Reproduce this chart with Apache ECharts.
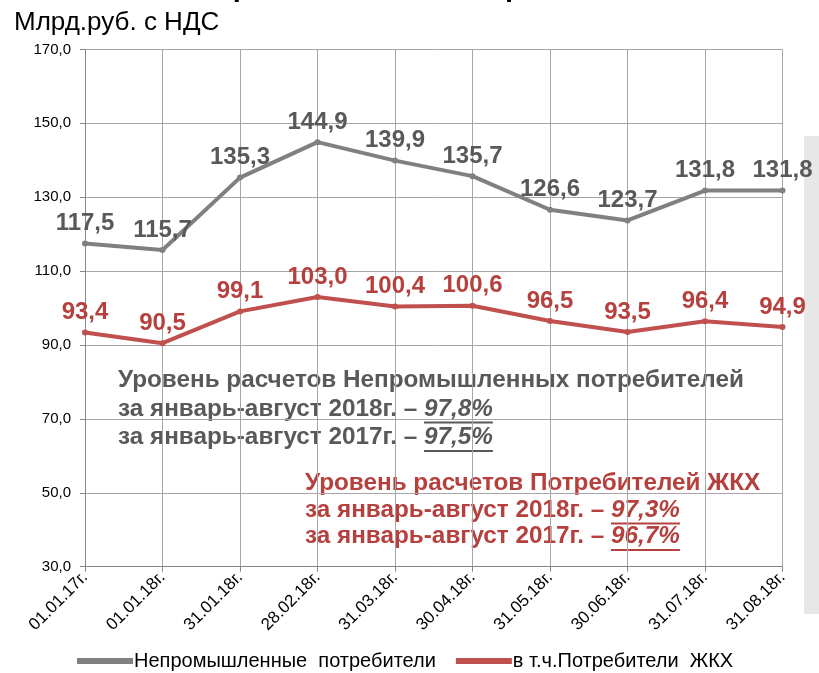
<!DOCTYPE html>
<html><head><meta charset="utf-8">
<script src="https://cdn.jsdelivr.net/npm/echarts@6/dist/echarts.min.js"></script>
<style>html,body{margin:0;padding:0;background:#fff}#c{width:819px;height:673px}</style>
</head><body><div id="c"></div>
<script>
const categories = ['01.01.17г.','01.01.18г.','31.01.18г.','28.02.18г.','31.03.18г.','30.04.18г.','31.05.18г.','30.06.18г.','31.07.18г.','31.08.18г.'];
const nonIndustrial = [117.5,115.7,135.3,144.9,139.9,135.7,126.6,123.7,131.8,131.8];
const housing = [93.4,90.5,99.1,103.0,100.4,100.6,96.5,93.5,96.4,94.9];
const seriesNames = ['Непромышленные  потребители','в т.ч.Потребители  ЖКХ'];
const yTicks = {min:30, max:170, interval:20};
const unitLabel = 'Млрд.руб. с НДС';
const topTitle = 'Непромышленные потребители';
const noteGray = ['Уровень расчетов Непромышленных потребителей', ['за январь-август 2018г. – ','97,8%'], ['за январь-август 2017г. – ','97,5%']];
const noteRed = ['Уровень расчетов Потребителей ЖКХ', ['за январь-август 2018г. – ','97,3%'], ['за январь-август 2017г. – ','96,7%']];

const FONT = 'Liberation Sans, Arial, sans-serif';
const fmt = v => v.toFixed(1).replace('.', ',');
const GRAY = '#808080', RED = '#c0504d', GRAYT = '#595959', REDT = '#b5403d';

const cv = document.createElement('canvas').getContext('2d');
function w(text, size, weight, style){ cv.font = (style||'normal')+' '+(weight||'normal')+' '+size+'px '+FONT; return cv.measureText(text).width; }

const NOTE_SIZE = 24.3;
function noteGraphics(lines, x, y0, dy, color){
  const g = [];
  lines.forEach((ln, i) => {
    const y = y0 + i*dy;
    if (typeof ln === 'string') {
      g.push({type:'text', left:x, top:y - NOTE_SIZE*0.6, style:{text:ln, fill:color, font:'bold '+NOTE_SIZE+'px '+FONT}});
    } else {
      const w1 = w(ln[0], NOTE_SIZE, 'bold');
      const w2 = w(ln[1], NOTE_SIZE, 'bold', 'italic');
      g.push({type:'text', left:x, top:y - NOTE_SIZE*0.6, style:{text:ln[0], fill:color, font:'bold '+NOTE_SIZE+'px '+FONT}});
      g.push({type:'text', left:x + w1, top:y - NOTE_SIZE*0.6, style:{text:ln[1], fill:color, font:'italic bold '+NOTE_SIZE+'px '+FONT}});
      g.push({type:'line', shape:{x1:x+w1, y1:y+NOTE_SIZE*0.45, x2:x+w1+w2, y2:y+NOTE_SIZE*0.45}, style:{stroke:color, lineWidth:2}});
    }
  });
  return g;
}

const chart = echarts.init(document.getElementById('c'), null, {renderer:'canvas'});
chart.setOption({
  animation:false,
  textStyle:{fontFamily:FONT},
  grid:{left:85, right:36.5, top:49.4, bottom:106.3, containLabel:false},
  graphic:[
    {type:'rect', shape:{x:804, y:136, width:15, height:478}, style:{fill:'#e7e7e7'}},
    {type:'text', left:'center', top:-27, style:{text:topTitle, fill:'#000', font:'bold 29px '+FONT}},
    {type:'text', left:14, top:10, style:{text:unitLabel, fill:'#000', font:'26px '+FONT}},
    ...noteGraphics(noteGray, 118, 383, 28.5, GRAYT),
    ...noteGraphics(noteRed, 305, 486, 26.5, REDT)
  ],
  legend:{
    top:648, left:72, itemGap:20, itemWidth:56, itemHeight:6, padding:[2,5,2,5],
    icon:'rect',
    textStyle:{fontSize:20, lineHeight:22, color:'#000', fontFamily:FONT, padding:[0,0,0,-4]},
    data:seriesNames
  },
  xAxis:{
    type:'category', data:categories, boundaryGap:false,
    axisLine:{lineStyle:{color:'#868686', width:1}},
    axisTick:{show:true, alignWithLabel:true, length:5, lineStyle:{color:'#868686'}},
    splitLine:{show:true, lineStyle:{color:'#a6a6a6', width:1}},
    axisLabel:{rotate:45, fontSize:17, color:'#000', margin:8, interval:0}
  },
  yAxis:{
    type:'value', min:yTicks.min, max:yTicks.max, interval:yTicks.interval,
    axisLine:{show:true, lineStyle:{color:'#868686'}},
    axisTick:{show:true, length:5, lineStyle:{color:'#868686'}},
    splitLine:{lineStyle:{color:'#a6a6a6', width:1}},
    axisLabel:{fontSize:15, color:'#000', formatter:fmt, margin:14}
  },
  series:[
    {name:seriesNames[0], type:'line', data:nonIndustrial, symbol:'circle', symbolSize:6,
     lineStyle:{color:GRAY, width:4}, itemStyle:{color:GRAY},
     label:{show:true, position:'top', distance:5, formatter:p=>fmt(p.value), fontSize:24, fontWeight:'bold', color:GRAYT}},
    {name:seriesNames[1], type:'line', data:housing, symbol:'circle', symbolSize:6,
     lineStyle:{color:RED, width:4}, itemStyle:{color:RED},
     label:{show:true, position:'top', distance:5, formatter:p=>fmt(p.value), fontSize:24, fontWeight:'bold', color:REDT}}
  ]
});
</script></body></html>
